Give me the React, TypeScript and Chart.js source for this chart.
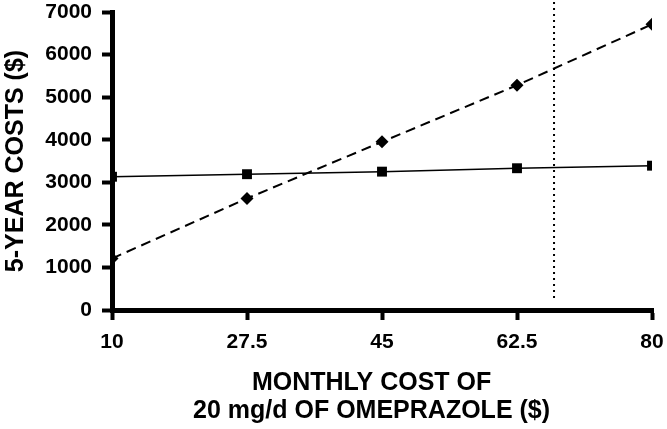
import React, { useRef, useEffect } from "react";
import Chart from "chart.js/auto";

// monthly cost of omeprazole ($)
const monthlyCost = [10, 27.5, 45, 62.5, 80];
// 5-year costs ($), solid line with squares
const squareCosts = [3130, 3190, 3250, 3330, 3390];
// 5-year costs ($), dashed line with diamonds
const diamondCosts = [1210, 2620, 3950, 5280, 6710];
const yTicks = [0, 1000, 2000, 3000, 4000, 5000, 6000, 7000];
// dotted reference line
const thresholdCost = 67.3;
const thresholdRange = [280, 7280];

const yTitle = "5-YEAR COSTS ($)";
const xTitle = ["MONTHLY COST OF\u00a0\u00a0\u00a0", "20 mg/d OF OMEPRAZOLE ($)\u00a0\u00a0\u00a0"];

const FONT = "'Liberation Sans', Arial, Helvetica, sans-serif";

const CostChart: React.FC = () => {
  const chartRef = useRef<HTMLCanvasElement | null>(null);

  useEffect(() => {
    document.body.style.margin = "0";
    if (!chartRef.current) return;

    const config: any = {
      type: "line",
      data: {
        datasets: [
          {
            label: "squares",
            data: monthlyCost.map((x, i) => ({ x, y: squareCosts[i] })),
            borderColor: "#000",
            backgroundColor: "#000",
            borderWidth: 1.5,
            pointStyle: "rect",
            pointRadius: 7,
            pointBorderWidth: 0,
          },
          {
            label: "diamonds",
            data: monthlyCost.map((x, i) => ({ x, y: diamondCosts[i] })),
            borderColor: "#000",
            backgroundColor: "#000",
            borderWidth: 2,
            borderDash: [10, 6],
            pointStyle: "rectRot",
            pointRadius: 6.5,
            pointBorderWidth: 0,
          },
          {
            label: "threshold",
            data: thresholdRange.map((y) => ({ x: thresholdCost, y })),
            borderColor: "#000",
            borderWidth: 2,
            borderDash: [2, 4],
            pointRadius: 0,
            clip: false,
          },
        ],
      },
      options: {
        animation: false,
        responsive: true,
        maintainAspectRatio: false,
        layout: { padding: { left: 0, right: 15, top: 12, bottom: 0 } },
        plugins: { legend: { display: false }, tooltip: { enabled: false } },
        scales: {
          x: {
            type: "linear",
            min: 10,
            max: 80,
            afterBuildTicks: (scale: any) => {
              scale.ticks = monthlyCost.map((v) => ({ value: v }));
            },
            afterFit: (scale: any) => {
              scale.height = 119;
              scale.paddingLeft = 0;
              scale.paddingRight = 0;
            },
            grid: {
              display: true,
              drawOnChartArea: false,
              drawTicks: true,
              tickLength: 10,
              tickWidth: 4,
              tickColor: "#000",
              lineWidth: 3,
              color: "#000",
            },
            border: { display: true, width: 5, color: "#000" },
            ticks: {
              color: "#000",
              padding: 10,
              maxRotation: 0,
              autoSkip: false,
              font: { family: FONT, size: 21, weight: "bold" },
              callback: (v: number) => String(v),
            },
            title: {
              display: true,
              text: xTitle,
              color: "#000",
              padding: { top: 0, bottom: 4 },
              font: { family: FONT, size: 25, weight: "bold", lineHeight: 1.12 },
            },
          },
          y: {
            min: 0,
            max: 7000,
            afterBuildTicks: (scale: any) => {
              scale.ticks = yTicks.map((v) => ({ value: v }));
            },
            afterFit: (scale: any) => {
              scale.width = 112;
              scale.paddingTop = 0;
              scale.paddingBottom = 0;
            },
            grid: {
              display: true,
              drawOnChartArea: false,
              drawTicks: true,
              tickLength: 10,
              tickWidth: 4,
              tickColor: "#000",
              lineWidth: 3,
              color: "#000",
            },
            border: { display: true, width: 5, color: "#000" },
            ticks: {
              color: "#000",
              padding: 10,
              font: { family: FONT, size: 21, weight: "bold" },
              callback: (v: number) => String(v),
            },
            title: {
              display: true,
              text: yTitle,
              color: "#000",
              padding: { top: 1, bottom: 0 },
              font: { family: FONT, size: 25, weight: "bold", lineHeight: 1.2 },
            },
          },
        },
      },
    };

    const myChart = new Chart(chartRef.current, config);
    return () => {
      myChart.destroy();
    };
  }, []);

  return (
    <div style={{ width: "667px", height: "429px", position: "relative" }}>
      <canvas ref={chartRef}></canvas>
    </div>
  );
};

export default function App() {
  return <CostChart />;
}
